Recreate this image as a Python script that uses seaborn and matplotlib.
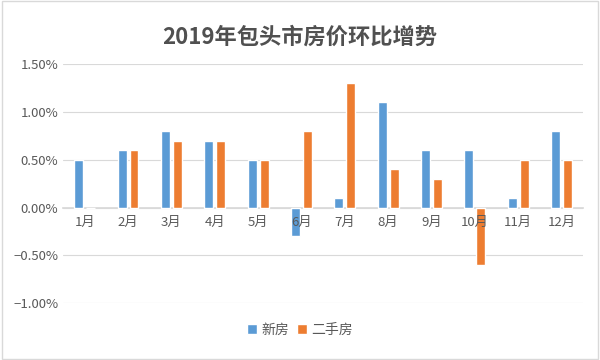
import matplotlib

matplotlib.use("Agg")
import matplotlib.pyplot as plt
import pandas as pd
import seaborn as sns
from matplotlib.ticker import PercentFormatter

months = ["1月", "2月", "3月", "4月", "5月", "6月", "7月", "8月", "9月", "10月", "11月", "12月"]
new_house = [0.5, 0.6, 0.8, 0.7, 0.5, -0.3, 0.1, 1.1, 0.6, 0.6, 0.1, 0.8]
second_hand = [0.0, 0.6, 0.7, 0.7, 0.5, 0.8, 1.3, 0.4, 0.3, -0.6, 0.5, 0.5]
series_names = ["新房", "二手房"]
y_ticks = [-1.0, -0.5, 0.0, 0.5, 1.0, 1.5]

df = pd.DataFrame({
    "month": months * 2,
    "value": new_house + second_hand,
    "type": [series_names[0]] * len(months) + [series_names[1]] * len(months),
})

sns.set_theme(style="white")
plt.rcParams["font.family"] = ["Noto Sans CJK SC", "DejaVu Sans"]

fig = plt.figure(figsize=(6, 3.6), dpi=100)
ax = fig.add_axes([0.105, 0.158, 0.867, 0.664])

sns.barplot(
    data=df, x="month", y="value", hue="type",
    palette=["#5B9BD5", "#ED7D31"], saturation=1, width=0.55, gap=0.25,
    ax=ax, legend=True,
)

ax.set_ylim(-1.0, 1.5)
ax.set_yticks(y_ticks)
ax.yaxis.set_major_formatter(PercentFormatter(decimals=2))
ax.grid(axis="y", color="#d9d9d9", linewidth=0.8)
ax.set_axisbelow(True)
# 月份标签画在柱子上面, 网格线在下面
ax.xaxis.set_zorder(3)
ax.set_xlabel("")
ax.set_ylabel("")

for side in ["top", "right", "left"]:
    ax.spines[side].set_visible(False)
ax.spines["bottom"].set_position(("data", 0))
ax.spines["bottom"].set_color("#d9d9d9")
ax.spines["bottom"].set_zorder(0.6)
ax.tick_params(axis="both", length=0, labelsize=9.5, colors="#595959")
ax.tick_params(axis="x", pad=6)

ax.legend_.remove()
handles, labels = ax.get_legend_handles_labels()
fig.legend(
    handles[:2], labels[:2], loc="center", bbox_to_anchor=(0.5, 0.083),
    ncol=2, frameon=False, fontsize=10, handlelength=0.7, handleheight=0.7,
    columnspacing=0.6, handletextpad=0.3, labelcolor="#595959",
)

fig.suptitle("2019年包头市房价环比增势", y=0.93, fontsize=16,
             fontweight="bold", color="#505050")

fig.patches.append(plt.Rectangle((0.003, 0.003), 0.994, 0.994, transform=fig.transFigure,
                                 fill=False, edgecolor="#d9d9d9", linewidth=1))

fig.savefig("out.png", dpi=100)
plt.close(fig)
